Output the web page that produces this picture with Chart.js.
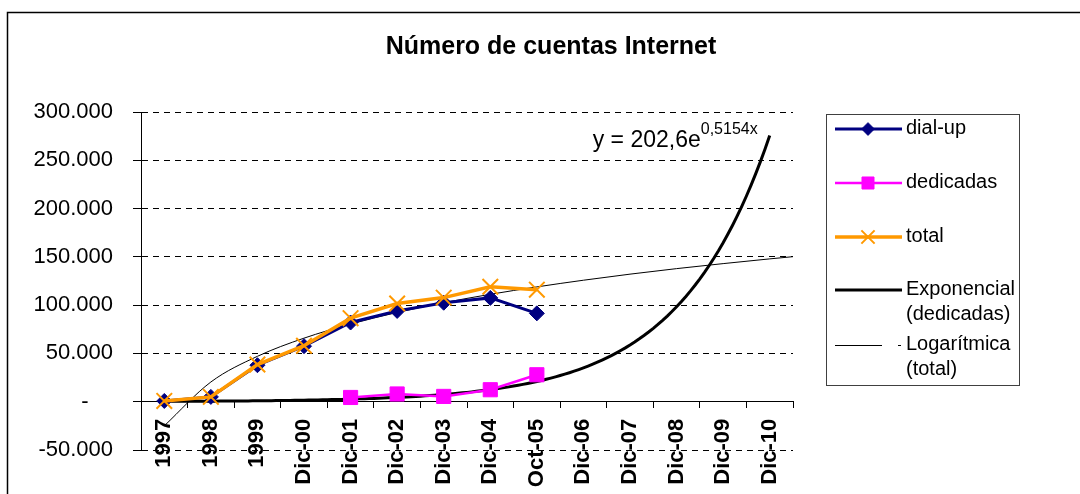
<!DOCTYPE html>
<html>
<head>
<meta charset="utf-8">
<title>Número de cuentas Internet</title>
<script src="https://cdn.jsdelivr.net/npm/chart.js@4.4.0/dist/chart.umd.min.js"></script>
<style>
  html, body { margin: 0; padding: 0; background: #fff; }
  #wrap { width: 1080px; height: 494px; }
</style>
</head>
<body>
<div id="wrap"><canvas id="cuentasChart" width="1080" height="494"></canvas></div>
<script>
const FONT = "'Liberation Sans', Arial, sans-serif";

/* ── data ─────────────────────────────────────── */
const categories = ['1997', '1998', '1999', 'Dic-00', 'Dic-01', 'Dic-02', 'Dic-03',
                    'Dic-04', 'Oct-05', 'Dic-06', 'Dic-07', 'Dic-08', 'Dic-09', 'Dic-10'];
const dialUp    = [800, 5000, 37800, 57500, 82000, 94000, 102500, 107500, 91500];
const dedicadas = [null, null, null, null, 4400, 8000, 5500, 12400, 27900];
const total     = [800, 5000, 38500, 58000, 86500, 101700, 107800, 119000, 116000];

// exponential fit on "dedicadas", as printed next to the curve: y = 202,6e^(0,5154x)
const expCoefA = 202.6;
const expCoefB = 0.5154;

// logarithmic fit on "total", read at each category (x = 1..14) and at the line's right end
const logTrendX = [1, 2, 3, 4, 5, 6, 7, 8, 9, 10, 11, 12, 13, 14, 14.5];
const logTrendY = [-25000, 20400, 47000, 65800, 80400, 92400, 102500, 111200,
                   118900, 125800, 132100, 137800, 143000, 147900, 150200];

const yMin = -50000, yMax = 300000, yStep = 50000;

/* ── helpers ──────────────────────────────────── */
const NAVY = '#000080', MAGENTA = '#FF00FF', ORANGE = '#FF9900';

function fmtMiles(v) {
  if (v === 0) return '-    ';
  const s = Math.abs(v).toString().replace(/\B(?=(\d{3})+(?!\d))/g, '.');
  return (v < 0 ? '-' : '') + s;
}

// the exponential curve is evaluated straight from its equation, every tenth of a category
const expPoints = [];
for (let k = 10; k <= categories.length * 10; k++) {
  const x = k / 10;
  expPoints.push({ x, y: expCoefA * Math.exp(expCoefB * x) });
}
const logPoints = logTrendX.map((x, i) => ({ x, y: logTrendY[i] }));

/* ── title, equation, legend box and outer frame ─ */
const decorPlugin = {
  id: 'decor',
  afterDraw(chart) {
    const ctx = chart.ctx;
    ctx.save();

    // outer frame (runs past the right and bottom edges)
    ctx.strokeStyle = '#000';
    ctx.lineWidth = 1.5;
    ctx.strokeRect(7.5, 12.5, 1200, 600);

    // title
    ctx.fillStyle = '#000';
    ctx.font = `bold 25px ${FONT}`;
    ctx.textAlign = 'center';
    ctx.textBaseline = 'middle';
    ctx.fillText('Número de cuentas Internet', 551, 47);

    // trend equation, anchored at the end of the exponential curve
    const expMeta = chart.getDatasetMeta(3);
    const endPt = expMeta.data[expMeta.data.length - 1];
    const eqMain = 'y = ' + String(expCoefA).replace('.', ',') + 'e';
    const eqSup = String(expCoefB).replace('.', ',') + 'x';
    ctx.textAlign = 'left';
    ctx.textBaseline = 'alphabetic';
    ctx.font = `23px ${FONT}`;
    const wMain = ctx.measureText(eqMain).width;
    ctx.font = `16px ${FONT}`;
    const wSup = ctx.measureText(eqSup).width;
    const eqX = endPt.x - 12 - wMain - wSup;
    ctx.font = `23px ${FONT}`;
    ctx.fillText(eqMain, eqX, endPt.y + 11);
    ctx.font = `16px ${FONT}`;
    ctx.fillText(eqSup, eqX + wMain, endPt.y - 1.5);

    // legend
    ctx.strokeStyle = '#404040';
    ctx.lineWidth = 1;
    ctx.strokeRect(826.5, 114.5, 193, 271);

    const rows = [
      { ds: 0, y: 129, text: ['dial-up'] },
      { ds: 1, y: 183, text: ['dedicadas'] },
      { ds: 2, y: 237, text: ['total'] },
      { ds: 3, y: 290, text: ['Exponencial', '(dedicadas)'] },
      { ds: 4, y: 345, text: ['Logarítmica', '(total)'] },
    ];
    ctx.font = `20px ${FONT}`;
    ctx.textBaseline = 'middle';
    rows.forEach(r => {
      const d = chart.data.datasets[r.ds];
      ctx.strokeStyle = d.borderColor;
      ctx.lineWidth = d.borderWidth;
      ctx.beginPath();
      if (r.ds === 4) {
        ctx.moveTo(835, r.y + 0.5); ctx.lineTo(882, r.y + 0.5);
        ctx.moveTo(898, r.y + 0.5); ctx.lineTo(901, r.y + 0.5);
      } else {
        ctx.moveTo(835, r.y); ctx.lineTo(902, r.y);
      }
      ctx.stroke();
      if (d.pointRadius > 0) {
        ctx.fillStyle = d.pointBackgroundColor;
        ctx.strokeStyle = d.pointBorderColor;
        ctx.lineWidth = d.pointBorderWidth;
        Chart.helpers.drawPoint(ctx, {
          pointStyle: d.pointStyle, radius: d.pointRadius * 0.85,
          rotation: 0, borderWidth: d.pointBorderWidth,
        }, 868, r.y);
      }
      ctx.fillStyle = '#000';
      r.text.forEach((t, k) => ctx.fillText(t, 906, r.y - 1 + k * 25));
    });

    ctx.restore();
  }
};

/* ── chart ────────────────────────────────────── */
new Chart(document.getElementById('cuentasChart').getContext('2d'), {
  type: 'line',
  data: {
    labels: categories,
    datasets: [
      {
        label: 'dial-up',
        data: dialUp,
        borderColor: NAVY,
        backgroundColor: NAVY,
        borderWidth: 3,
        pointStyle: 'rectRot',
        pointRadius: 7.5,
        pointBackgroundColor: NAVY,
        pointBorderColor: NAVY,
        pointBorderWidth: 1,
        order: 2,
      },
      {
        label: 'dedicadas',
        data: dedicadas,
        borderColor: MAGENTA,
        backgroundColor: MAGENTA,
        borderWidth: 2.5,
        pointStyle: 'rect',
        pointRadius: 10,
        pointBackgroundColor: MAGENTA,
        pointBorderColor: MAGENTA,
        pointBorderWidth: 1,
        order: 2,
      },
      {
        label: 'total',
        data: total,
        borderColor: ORANGE,
        backgroundColor: ORANGE,
        borderWidth: 3.5,
        pointStyle: 'crossRot',
        pointRadius: 11,
        pointBackgroundColor: ORANGE,
        pointBorderColor: ORANGE,
        pointBorderWidth: 2,
        order: 1,
      },
      {
        label: 'Exponencial (dedicadas)',
        data: expPoints,
        xAxisID: 'xt',
        borderColor: '#000',
        borderWidth: 3,
        pointRadius: 0,
        order: 3,
      },
      {
        label: 'Logarítmica (total)',
        data: logPoints,
        xAxisID: 'xt',
        borderColor: '#000',
        borderWidth: 1,
        pointRadius: 0,
        cubicInterpolationMode: 'monotone',
        order: 3,
      },
    ],
  },
  options: {
    responsive: false,
    animation: false,
    events: [],
    layout: { padding: { left: 8, top: 112, right: 287, bottom: 44 } },
    plugins: {
      legend: { display: false },
      title: { display: false },
      tooltip: { enabled: false },
    },
    scales: {
      x: {
        type: 'category',
        position: { y: 0 },
        offset: true,
        grid: { drawOnChartArea: false, drawTicks: true, tickLength: 6, offset: true, color: '#000', tickColor: '#000' },
        border: { display: true, color: '#000', width: 1 },
        ticks: {
          minRotation: 90,
          maxRotation: 90,
          autoSkip: false,
          padding: 11,
          color: '#000',
          font: { family: FONT, size: 22, weight: 'bold' },
        },
      },
      xt: {
        type: 'linear',
        display: false,
        min: 0.5,
        max: categories.length + 0.5,
      },
      y: {
        min: yMin,
        max: yMax,
        afterFit: scale => { scale.width = 133; },
        grid: { color: '#000', lineWidth: 1, tickLength: 8, tickColor: '#000' },
        border: { display: true, color: '#000', width: 1, dash: [6, 5] },
        ticks: {
          stepSize: yStep,
          padding: 20,
          color: '#000',
          font: { family: FONT, size: 22 },
          callback: v => fmtMiles(v),
        },
      },
    },
  },
  plugins: [decorPlugin],
});
</script>
</body>
</html>
